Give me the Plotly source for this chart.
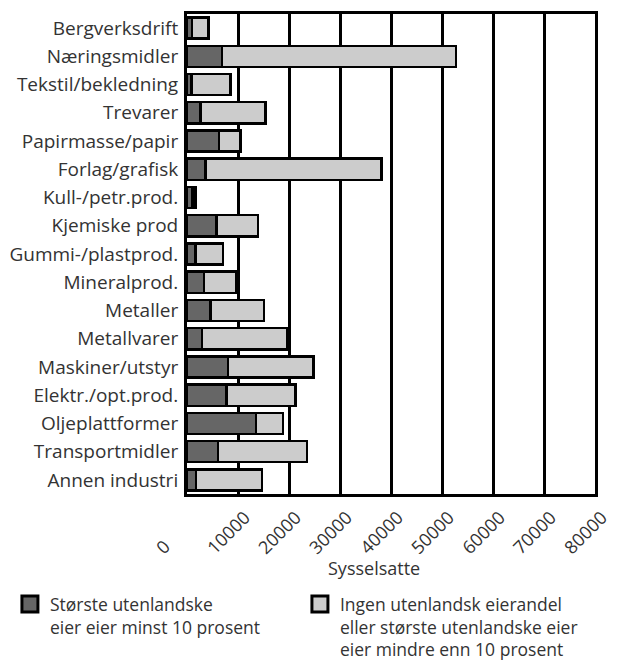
import plotly.graph_objects as go

categories = ["Bergverksdrift", "Næringsmidler", "Tekstil/bekledning", "Trevarer",
              "Papirmasse/papir", "Forlag/grafisk", "Kull-/petr.prod.", "Kjemiske prod",
              "Gummi-/plastprod.", "Mineralprod.", "Metaller", "Metallvarer",
              "Maskiner/utstyr", "Elektr./opt.prod.", "Oljeplattformer", "Transportmidler",
              "Annen industri"]
foreign = [1000, 6900, 900, 2600, 6300, 3600, 1100, 5800, 1700, 3300, 4600, 2900,
           8000, 7700, 13500, 6100, 1800]
total = [4200, 52700, 8500, 15400, 10500, 38100, 1700, 13900, 7100, 9700, 15100, 19600,
         24800, 21300, 18800, 23500, 14700]
domestic = [t - f for t, f in zip(total, foreign)]

tick_vals = [0, 10000, 20000, 30000, 40000, 50000, 60000, 70000, 80000]
tick_text = ["0\u2007\u2007\u2007\u2007", "10000", "20000", "30000", "40000", "50000",
             "60000", "70000", "80000"]

name_foreign = "Største utenlandske<br>eier eier minst 10 prosent"
name_domestic = "Ingen utenlandsk eierandel<br>eller største utenlandske eier<br>eier mindre enn 10 prosent"
x_title = "Sysselsatte"

DARK = "#666666"
LIGHT = "#cccccc"
FONT = "Open Sans"
TXT = "#333333"

fig = go.Figure()
fig.add_trace(go.Bar(y=categories, x=foreign, orientation="h",
                     marker=dict(color=DARK, line=dict(color="black", width=2.5)),
                     showlegend=False))
fig.add_trace(go.Bar(y=categories, x=domestic, orientation="h",
                     marker=dict(color=LIGHT, line=dict(color="black", width=2.5)),
                     showlegend=False))
# legend entries
fig.add_trace(go.Scatter(x=[None], y=[None], mode="markers", name=name_foreign,
                         marker=dict(symbol="square", size=16, color=DARK,
                                     line=dict(color="black", width=3))))
fig.add_trace(go.Scatter(x=[None], y=[None], mode="markers", name=name_domestic,
                         marker=dict(symbol="square", size=16, color=LIGHT,
                                     line=dict(color="black", width=3))))

fig.add_annotation(text=x_title, xref="paper", yref="paper", x=0.458, y=-0.154,
                   xanchor="center", yanchor="middle", showarrow=False,
                   font=dict(family=FONT, size=18, color=TXT))

fig.update_layout(
    width=609, height=655,
    barmode="stack", bargap=0.25,
    margin=dict(l=179, r=22, t=6, b=169, autoexpand=False),
    plot_bgcolor="white", paper_bgcolor="white",
    font=dict(family=FONT, size=18, color=TXT),
    legend=dict(orientation="h", x=-0.434, y=-0.192,
                xanchor="left", yanchor="top", entrywidth=245, entrywidthmode="pixels",
                valign="top", traceorder="normal",
                font=dict(family=FONT, size=17.5, color=TXT), itemsizing="trace"),
    xaxis=dict(range=[0, 80000], tickvals=tick_vals, ticktext=tick_text, tickangle=-45,
               showgrid=True, gridcolor="black", gridwidth=3, automargin=False,
               showline=True, linecolor="black", linewidth=3, mirror=True,
               zeroline=False, ticks="", ticklabelshift=7, ticklabelstandoff=3,
               tickfont=dict(family=FONT, size=18, color=TXT)),
    yaxis=dict(categoryorder="array", categoryarray=categories, autorange="reversed",
               showline=True, linecolor="black", linewidth=3, mirror=True,
               showgrid=False, ticks="", ticklabelstandoff=2, automargin=False,
               tickfont=dict(family=FONT, size=19, color=TXT)),
)

fig.write_html("out.html")
